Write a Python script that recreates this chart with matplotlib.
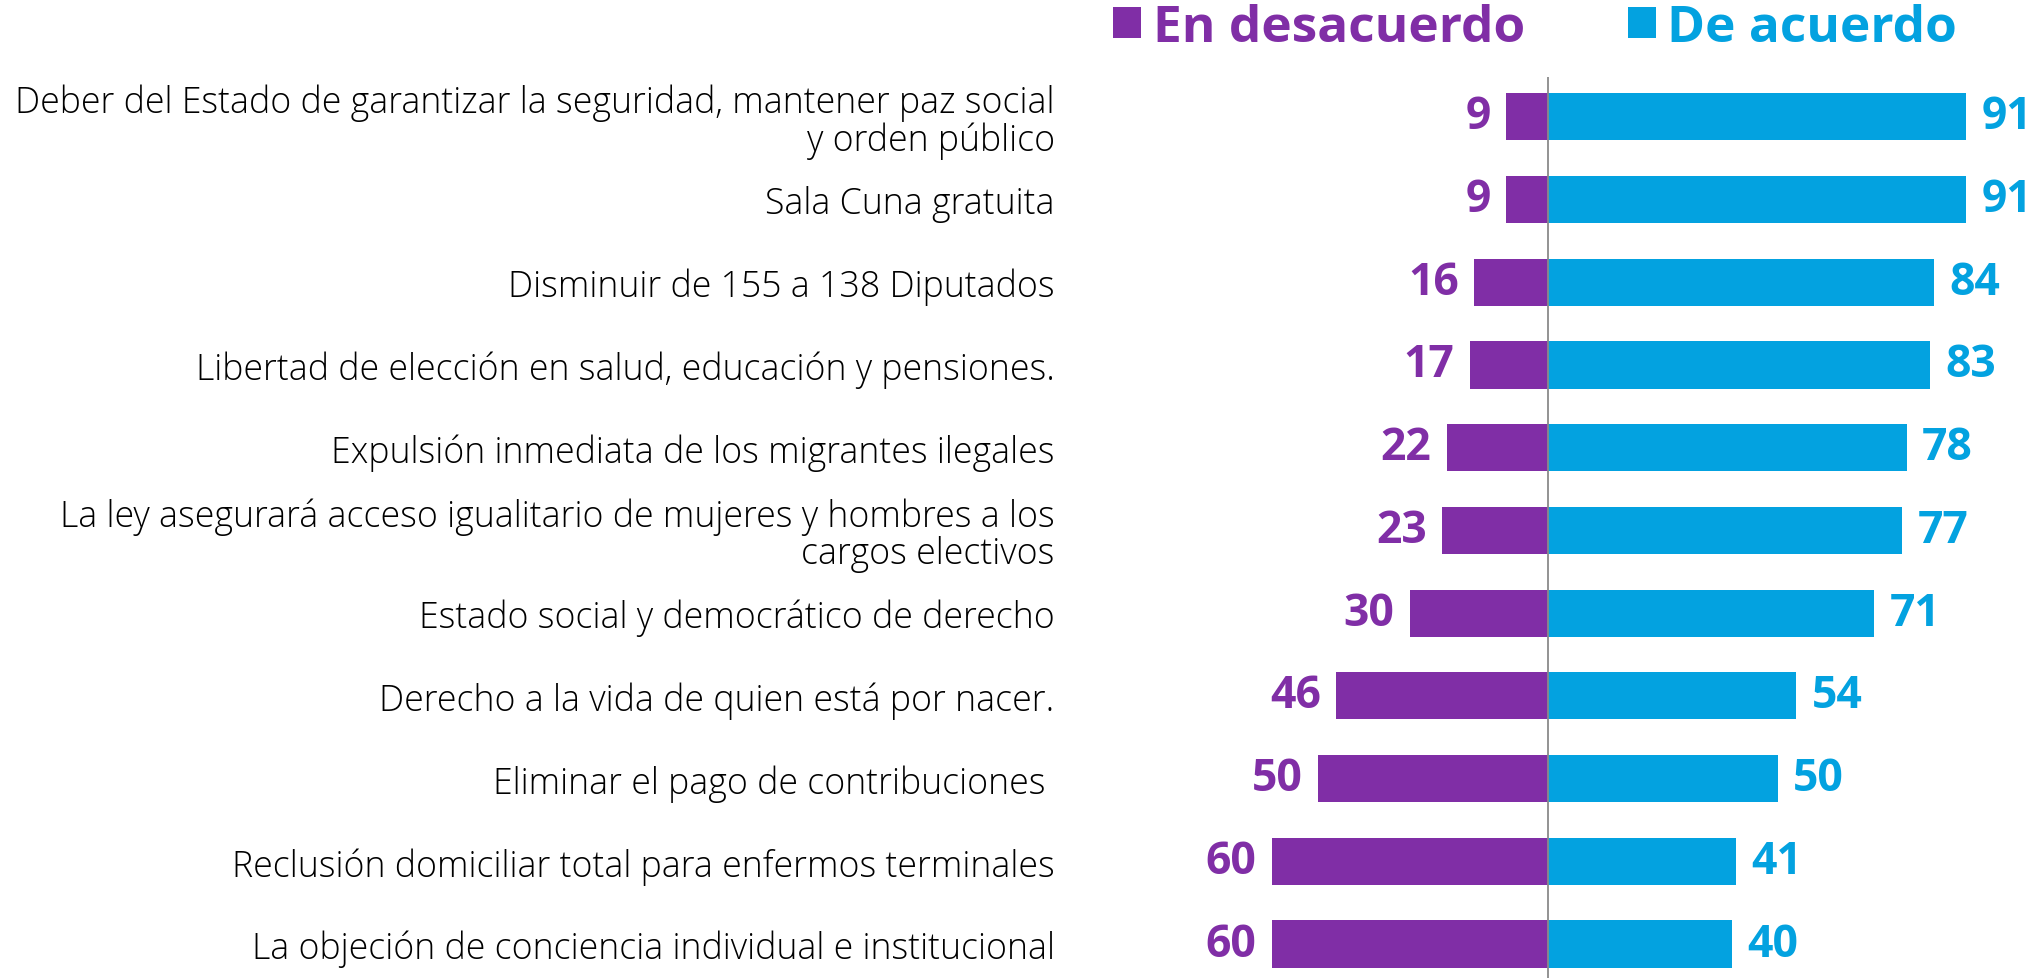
import matplotlib.pyplot as plt
import numpy as np

labels = [
    "Deber del Estado de garantizar la seguridad, mantener paz social\ny orden público",
    "Sala Cuna gratuita",
    "Disminuir de 155 a 138 Diputados",
    "Libertad de elección en salud, educación y pensiones.",
    "Expulsión inmediata de los migrantes ilegales",
    "La ley asegurará acceso igualitario de mujeres y hombres a los\ncargos electivos",
    "Estado social y democrático de derecho",
    "Derecho a la vida de quien está por nacer.",
    "Eliminar el pago de contribuciones ",
    "Reclusión domiciliar total para enfermos terminales",
    "La objeción de conciencia individual e institucional",
]
desacuerdo = [9, 9, 16, 17, 22, 23, 30, 46, 50, 60, 60]
acuerdo = [91, 91, 84, 83, 78, 77, 71, 54, 50, 41, 40]

purple = "#802EA6"
blue = "#03A2E0"
font = "Open Sans"

W, H = 2040, 979
fig = plt.figure(figsize=(W / 100, H / 100), dpi=100)
# axes placed in pixel terms: left edge 1070, top at 78
ax = fig.add_axes([1070 / W, 0, 1 - 1070 / W, 1 - 78 / H])

y = np.arange(len(labels))
b1 = ax.barh(y, [-v for v in desacuerdo], height=0.57, color=purple, label="En desacuerdo")
b2 = ax.barh(y, acuerdo, height=0.57, color=blue, label="De acuerdo")

ax.set_xlim(-103.9, 107)
ax.set_ylim(10.41, -0.48)
ax.axvline(0, color="#8a8a8a", lw=1.3, zorder=3)

for i in range(len(labels)):
    ax.annotate(str(desacuerdo[i]), (-desacuerdo[i], y[i]), xytext=(-11, 0),
                textcoords="offset points", ha="right", va="center",
                color=purple, fontsize=32, fontweight="bold", family=font)
    ax.annotate(str(acuerdo[i]), (acuerdo[i], y[i]), xytext=(11, 0),
                textcoords="offset points", ha="left", va="center",
                color=blue, fontsize=32, fontweight="bold", family=font)

ax.set_yticks(y)
ax.set_yticklabels(labels, fontsize=25.7, family=font, fontweight="light", linespacing=1.0)
ax.tick_params(axis="y", length=0, pad=11)
ax.set_xticks([])
for s in ax.spines.values():
    s.set_visible(False)

leg = fig.legend(handles=[b1, b2], loc="center right", bbox_to_anchor=(1957 / W, 1 - 29 / H),
                 ncol=2, frameon=False, prop={"family": font, "size": 37, "weight": "bold"},
                 handlelength=0.55, handleheight=0.55, handletextpad=0.22,
                 columnspacing=2.0, borderaxespad=0, borderpad=0)
for t, c in zip(leg.get_texts(), [purple, blue]):
    t.set_color(c)

fig.savefig("out.png", dpi=100)
